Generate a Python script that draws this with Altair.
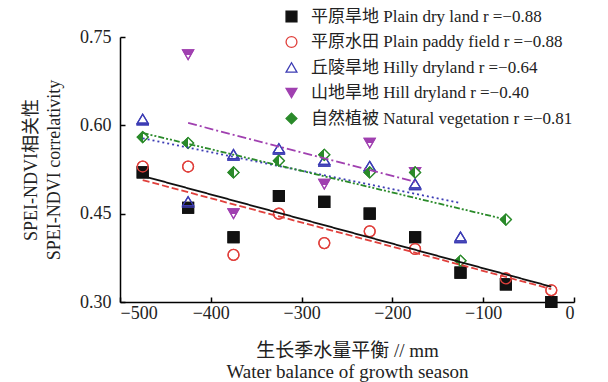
import json
import altair as alt
import pandas as pd

# ---- data ----
series = [
    "平原旱地 Plain dry land r =−0.88",
    "平原水田 Plain paddy field r =−0.88",
    "丘陵旱地 Hilly dryland r =−0.64",
    "山地旱地 Hill dryland r =−0.40",
    "自然植被 Natural vegetation r =−0.81",
]

plain_dry_x = [-475, -425, -375, -325, -275, -225, -175, -125, -75, -25]
plain_dry_y = [0.52, 0.46, 0.41, 0.48, 0.47, 0.45, 0.41, 0.35, 0.33, 0.30]

plain_paddy_x = [-475, -425, -375, -325, -275, -225, -175, -75, -25]
plain_paddy_y = [0.53, 0.53, 0.38, 0.45, 0.40, 0.42, 0.39, 0.34, 0.32]

hilly_x = [-475, -425, -375, -325, -275, -225, -175, -125]
hilly_y = [0.61, 0.47, 0.55, 0.56, 0.54, 0.53, 0.50, 0.41]

hill_x = [-425, -375, -275, -225, -175]
hill_y = [0.72, 0.45, 0.50, 0.57, 0.52]

natural_x = [-475, -425, -375, -325, -275, -225, -175, -125, -75]
natural_y = [0.58, 0.57, 0.52, 0.54, 0.55, 0.52, 0.52, 0.37, 0.44]

# fitted lines (start / end)
fit_x_start = [-475, -475, -475, -425, -475]
fit_y_start = [0.514, 0.507, 0.578, 0.604, 0.587]
fit_x_end = [-25, -25, -125, -175, -75]
fit_y_end = [0.326, 0.322, 0.468, 0.504, 0.440]

x_ticks = [-500, -400, -300, -200, -100, 0]
y_ticks = [0.30, 0.45, 0.60, 0.75]

# ---- tables ----
rows = []
for s, xs, ys in zip(series,
                     [plain_dry_x, plain_paddy_x, hilly_x, hill_x, natural_x],
                     [plain_dry_y, plain_paddy_y, hilly_y, hill_y, natural_y]):
    for x, y in zip(xs, ys):
        rows.append({"series": s, "x": x, "y": y})
pts = pd.DataFrame(rows)

lrows = []
for s, x0, y0, x1, y1 in zip(series, fit_x_start, fit_y_start, fit_x_end, fit_y_end):
    lrows.append({"series": s, "x": x0, "y": y0})
    lrows.append({"series": s, "x": x1, "y": y1})
lines = pd.DataFrame(lrows)

# ---- styles ----
colors = ["#111111", "#e0403c", "#3c3cb4", "#a040b0", "#2a8a2a"]
tri_path = "M0,-0.95L1,0.7L-1,0.7Z M-1.15,0.98L1.15,0.98"
shapes = ["square", "circle", tri_path, "triangle-down", "diamond"]
legend_shapes = ["square", "circle", "triangle-up", "triangle-down", "diamond"]


def half_fill(color, vertical, cut):
    x2, y2 = (0, 1) if vertical else (1, 0)
    return alt.ExprRef(
        "{gradient:'linear',x1:0,y1:0,x2:%d,y2:%d,stops:[{offset:0,color:'%s'},"
        "{offset:%g,color:'%s'},{offset:%g,color:'#ffffff'},{offset:1,color:'#ffffff'}]}"
        % (x2, y2, color, cut, color, cut)
    )


legend_fills = ["#111111", "transparent", "transparent", "#a040b0", "#2a8a2a"]
mark_fills = ["#111111", "transparent", "transparent",
              half_fill("#a040b0", True, 0.55), half_fill("#2a8a2a", False, 0.5)]
dashes = [[1, 0], [7, 3], [2, 3], [9, 3, 2, 3], [6, 2, 2, 2, 2, 2]]

FONT = "Liberation Serif, Noto Sans CJK SC"

dom_js = json.dumps(series, ensure_ascii=False)
legend = alt.Legend(
    title=None,
    orient="none",
    legendX=163,
    legendY=-29,
    symbolType=alt.ExprRef(
        json.dumps(legend_shapes) + "[indexof(" + dom_js + ", datum.value)]"
    ),
    symbolStrokeColor=alt.ExprRef(
        json.dumps(colors) + "[indexof(" + dom_js + ", datum.value)]"
    ),
    symbolStrokeWidth=1.3,
    symbolOpacity=1,
)

x_enc = alt.X(
    "x:Q",
    scale=alt.Scale(domain=[-500, 0], nice=False, zero=False),
    axis=alt.Axis(
        values=x_ticks,
        title=["生长季水量平衡 // mm", "Water balance of growth season"],
        titlePadding=19,
        tickSize=alt.ExprRef("-5"),
        labelPadding=7,
        titleFontSize=19,
        titleLineHeight=21,
    ),
)
y_enc = alt.Y(
    "y:Q",
    scale=alt.Scale(domain=[0.30, 0.75], nice=False, zero=False),
    axis=alt.Axis(
        values=y_ticks,
        format=".2f",
        title=["SPEI-NDVI相关性", "SPEI-NDVI correlativity"],
        titlePadding=16,
        tickSize=alt.ExprRef("-5"),
        labelPadding=14,
        titleLineHeight=23,
    ),
)

shape_enc = alt.Shape("series:N", scale=alt.Scale(domain=series, range=shapes), legend=None)
stroke_enc = alt.Stroke("series:N", scale=alt.Scale(domain=series, range=colors), legend=None)

# base layer: carries the legend (plain fills)
points_legend = alt.Chart(pts).mark_point(opacity=1, size=118, strokeWidth=1.3).encode(
    x=x_enc,
    y=y_enc,
    shape=shape_enc,
    stroke=stroke_enc,
    fill=alt.Fill("series:N", scale=alt.Scale(domain=series, range=legend_fills), legend=legend),
)

# top layer: half-filled symbols
points_half = alt.Chart(pts).mark_point(opacity=1, size=118, strokeWidth=1.3).encode(
    x="x:Q",
    y="y:Q",
    shape=shape_enc,
    stroke=stroke_enc,
    fill=alt.Fill("series:N", scale=alt.Scale(domain=series, range=mark_fills), legend=None),
)

fit = alt.Chart(lines).mark_line(strokeWidth=1.8).encode(
    x="x:Q",
    y="y:Q",
    color=alt.Color("series:N", scale=alt.Scale(domain=series, range=colors), legend=None),
    strokeDash=alt.StrokeDash("series:N", scale=alt.Scale(domain=series, range=dashes), legend=None),
    detail="series:N",
)

chart = (
    alt.layer(points_legend, points_half, fit)
    .resolve_scale(fill="independent")
    .properties(
        width=454,
        height=265,
        autosize=alt.AutoSizeParams(type="none"),
        padding={"left": 120, "top": 37, "right": 34, "bottom": 80},
        background="#ffffff",
    )
    .configure_view(stroke=None)
    .configure_axis(
        grid=False,
        domainColor="#000000",
        domainWidth=1.5,
        tickColor="#000000",
        tickWidth=1.5,
        labelFont=FONT,
        labelFontSize=18,
        labelColor="#222222",
        titleFont=FONT,
        titleFontSize=18,
        titleFontWeight="normal",
        titleColor="#222222",
    )
    .configure_legend(
        padding=0,
        labelFont=FONT,
        labelFontSize=17,
        labelColor="#222222",
        labelOffset=11,
        rowPadding=7.5,
        symbolSize=118,
        labelLimit=400,
    )
)

chart.save("out.html", embed_options={"renderer": "svg", "actions": False})
